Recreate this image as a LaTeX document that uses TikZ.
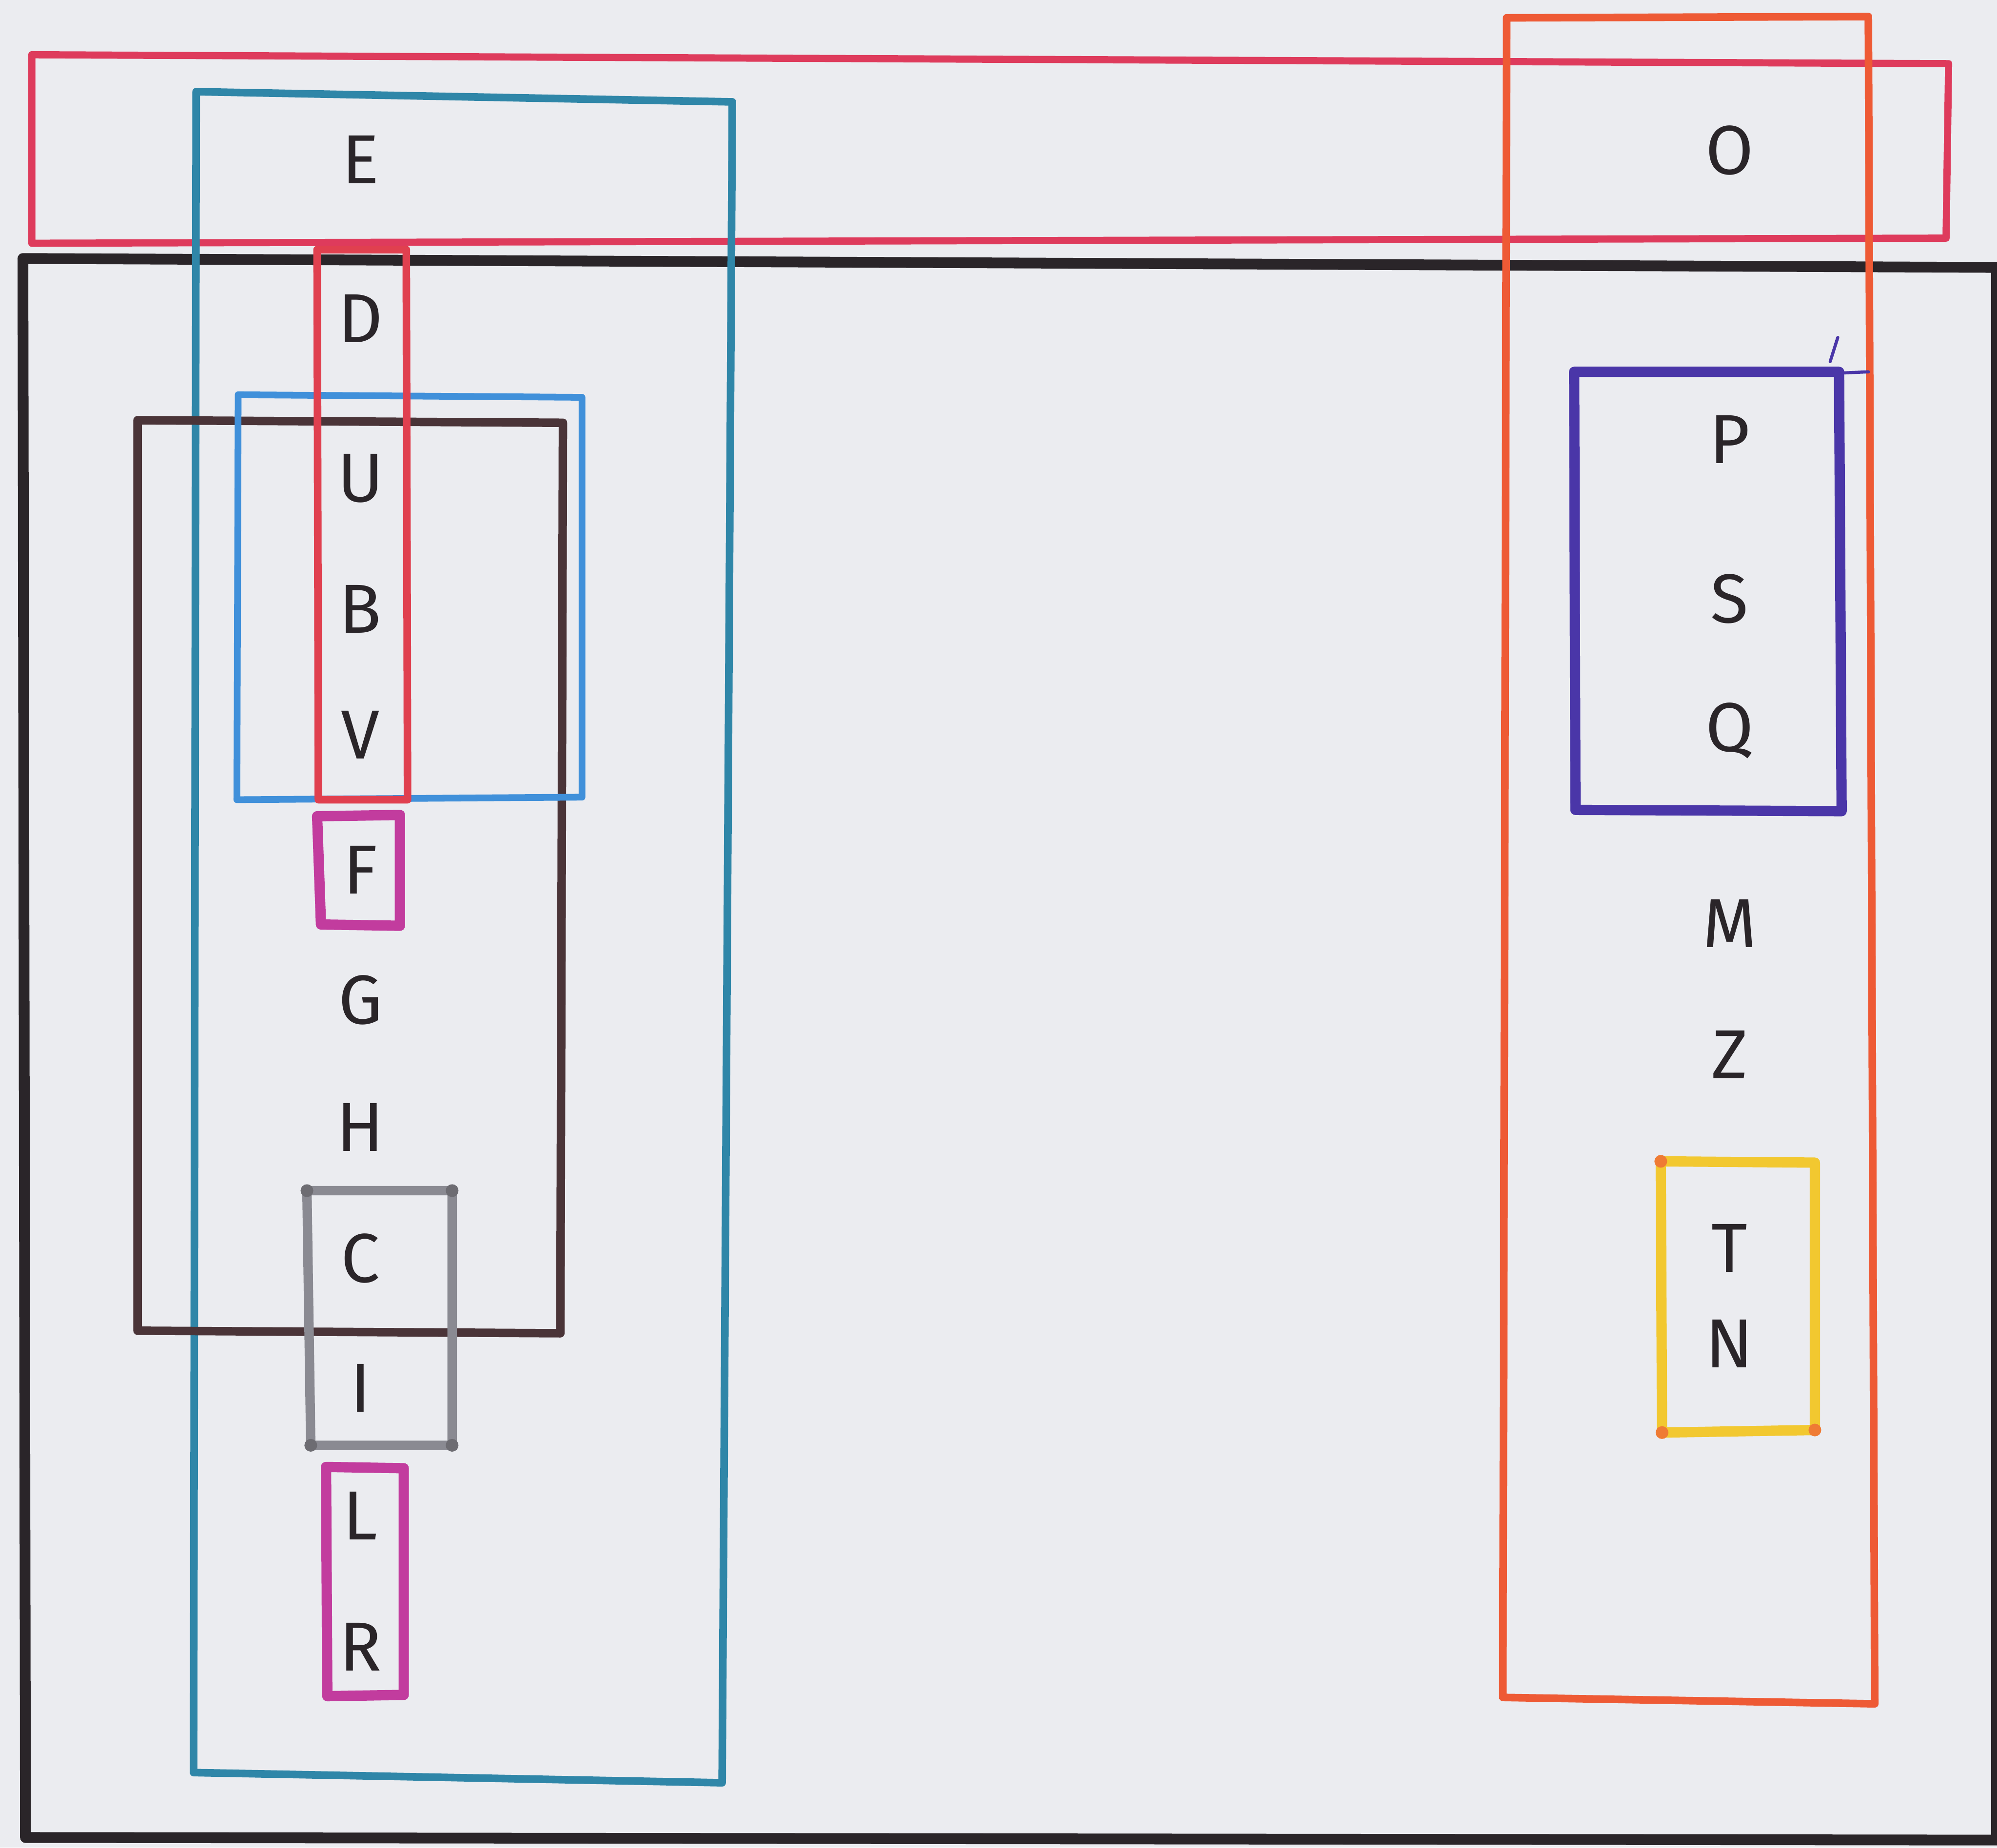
\documentclass[tikz,border=0pt]{standalone}
\usepackage{fontspec}
\setmainfont{Fira Sans}
\definecolor{paper}{HTML}{EBECF0}
\definecolor{crim}{HTML}{DE3B5C}
\definecolor{teal}{HTML}{2F86A8}
\definecolor{ink}{HTML}{2A2529}
\definecolor{orng}{HTML}{EE5A35}
\definecolor{redn}{HTML}{E0404F}
\definecolor{lblue}{HTML}{4090DA}
\definecolor{brwn}{HTML}{4A3438}
\definecolor{magn}{HTML}{C23C9E}
\definecolor{gry}{HTML}{8A8A92}
\definecolor{indg}{HTML}{4A36A8}
\definecolor{yell}{HTML}{F2C830}
\tikzset{
  lab/.style={anchor=base, inner sep=0pt, text=ink, font=\fontsize{15.5}{18}\selectfont},
  pen/.style={line width=#1, line join=round, line cap=round},
}
\begin{document}
\begin{tikzpicture}[x=0.01cm, y=-0.01cm]
\useasboundingbox (0,0) rectangle (1568,1451);
\fill[paper] (0,0) rectangle (1568,1451);
% large black frame
\draw[pen=2.4pt, ink] (1568,210) -- (18,203) -- (20,1443) -- (1568,1445);
\draw[pen=1.5pt, ink] (1566,210) -- (1566,1445);
% crimson top band
\draw[pen=1.6pt, crim] (25,43) -- (1530,50) -- (1528,187) -- (25,191) -- cycle;
% orange tall rectangle
\draw[pen=1.7pt, orng] (1183,14) -- (1467,13) -- (1472,1338) -- (1180,1333) -- cycle;
% teal large rectangle
\draw[pen=1.7pt, teal] (154,72) -- (575,80) -- (567,1400) -- (152,1392) -- cycle;
% dark brown rectangle
\draw[pen=1.9pt, brwn] (108,330) -- (442,332) -- (440,1047) -- (108,1045) -- cycle;
% light blue rectangle
\draw[pen=1.5pt, lblue] (187,310) -- (457,312) -- (457,626) -- (186,628) -- cycle;
% narrow red rectangle
\draw[pen=1.7pt, redn] (249,196) -- (319,196) -- (320,628) -- (250,628) -- cycle;
% magenta F
\draw[pen=2.3pt, magn] (249,641) -- (314,640) -- (314,727) -- (252,726) -- cycle;
% gray C I
\draw[pen=2.1pt, gry] (241,935) -- (355,935) -- (355,1135) -- (244,1135) -- cycle;
\fill[gry!70!ink] (241,935) circle (5) (355,935) circle (5) (355,1135) circle (5) (244,1135) circle (5);
% magenta L R
\draw[pen=2.3pt, magn] (256,1152) -- (317,1153) -- (317,1331) -- (257,1332) -- cycle;
% indigo P S Q
\draw[pen=2.3pt, indg] (1236,292) -- (1444,292) -- (1446,637) -- (1237,636) -- cycle;
\draw[pen=0.7pt, indg] (1437,284) -- (1443,265);
\draw[pen=0.7pt, indg] (1444,293) -- (1467,292);
% yellow T N
\draw[pen=2.3pt, yell] (1304,912) -- (1425,913) -- (1425,1123) -- (1305,1125) -- cycle;
\fill[orng!70!yell] (1304,912) circle (5) (1425,1123) circle (5) (1305,1125) circle (5);
% letters, left column
\node[lab] (E) at (283,144) {E};
\node[lab] (D) at (283,269) {D};
\node[lab] (U) at (283,394) {U};
\node[lab] (B) at (283,497) {B};
\node[lab] (V) at (283,596) {V};
\node[lab] (F) at (283,702) {F};
\node[lab] (G) at (283,804) {G};
\node[lab] (H) at (283,904) {H};
\node[lab] (C) at (283,1007) {C};
\node[lab] (I) at (283,1109) {I};
\node[lab] (L) at (283,1209) {L};
\node[lab] (R) at (283,1312) {R};
% letters, right column
\node[lab] (O) at (1358,137) {O};
\node[lab] (P) at (1358,364) {P};
\node[lab] (S) at (1358,489) {S};
\node[lab] (Q) at (1358,590) {Q};
\node[lab] (M) at (1358,744) {M};
\node[lab] (Z) at (1358,847) {Z};
\node[lab] (T) at (1358,999) {T};
\node[lab] (N) at (1358,1074) {N};
\end{tikzpicture}
\end{document}
